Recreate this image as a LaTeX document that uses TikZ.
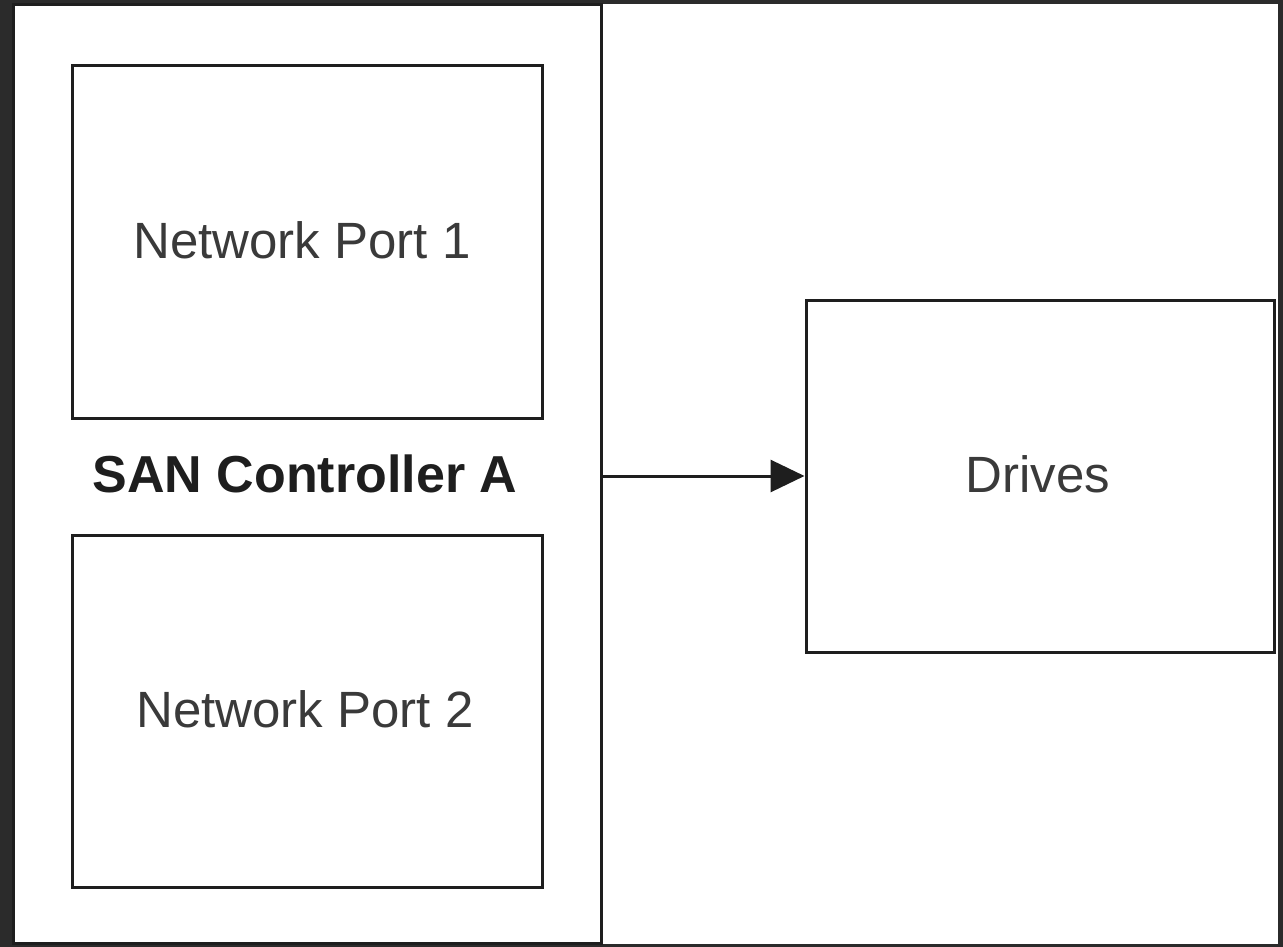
\documentclass[tikz,border=0pt]{standalone}
\usepackage{fontspec}
\setmainfont{Liberation Sans}
\usetikzlibrary{arrows.meta}
\definecolor{frame}{HTML}{2B2B2B}
\definecolor{ink}{HTML}{1E1E1E}
\definecolor{txt}{HTML}{3A3A3A}
\begin{document}
\begin{tikzpicture}[x=1pt,y=-1pt,
  box/.style={draw=ink,line width=3pt,fill=white},
  lbl/.style={text=txt,font=\fontsize{51}{60}\selectfont},
  blbl/.style={text=ink,font=\fontsize{52}{60}\selectfont\bfseries}]
\fill[frame] (0,0) rectangle (1283,947);
\useasboundingbox (0,0) rectangle (1283,947);
\fill[white] (12,4) rectangle (1278,944);
\draw[box] (13,5) rectangle (601,943);
\node[box,minimum width=470pt,minimum height=352pt,inner sep=0pt] (p1) at (307,242) {};
\node[lbl] at ([xshift=-5pt,yshift=2pt]p1.center) {Network Port 1};
\node[box,minimum width=470pt,minimum height=352pt,inner sep=0pt] (p2) at (307,711) {};
\node[lbl] at ([xshift=-2pt,yshift=2pt]p2.center) {Network Port 2};
\node[blbl] (san) at (305,474) {SAN Controller A};
\coordinate (ctrl) at (601,476);
\node[box,minimum width=468pt,minimum height=352pt,inner sep=0pt] (drv) at (1040,476) {};
\node[lbl] at ([xshift=-2pt,yshift=2pt]drv.center) {Drives};
\draw[ink,line width=3pt,-{Triangle[length=34pt,width=32pt]}] (ctrl) -- (drv.west);
\end{tikzpicture}
\end{document}
